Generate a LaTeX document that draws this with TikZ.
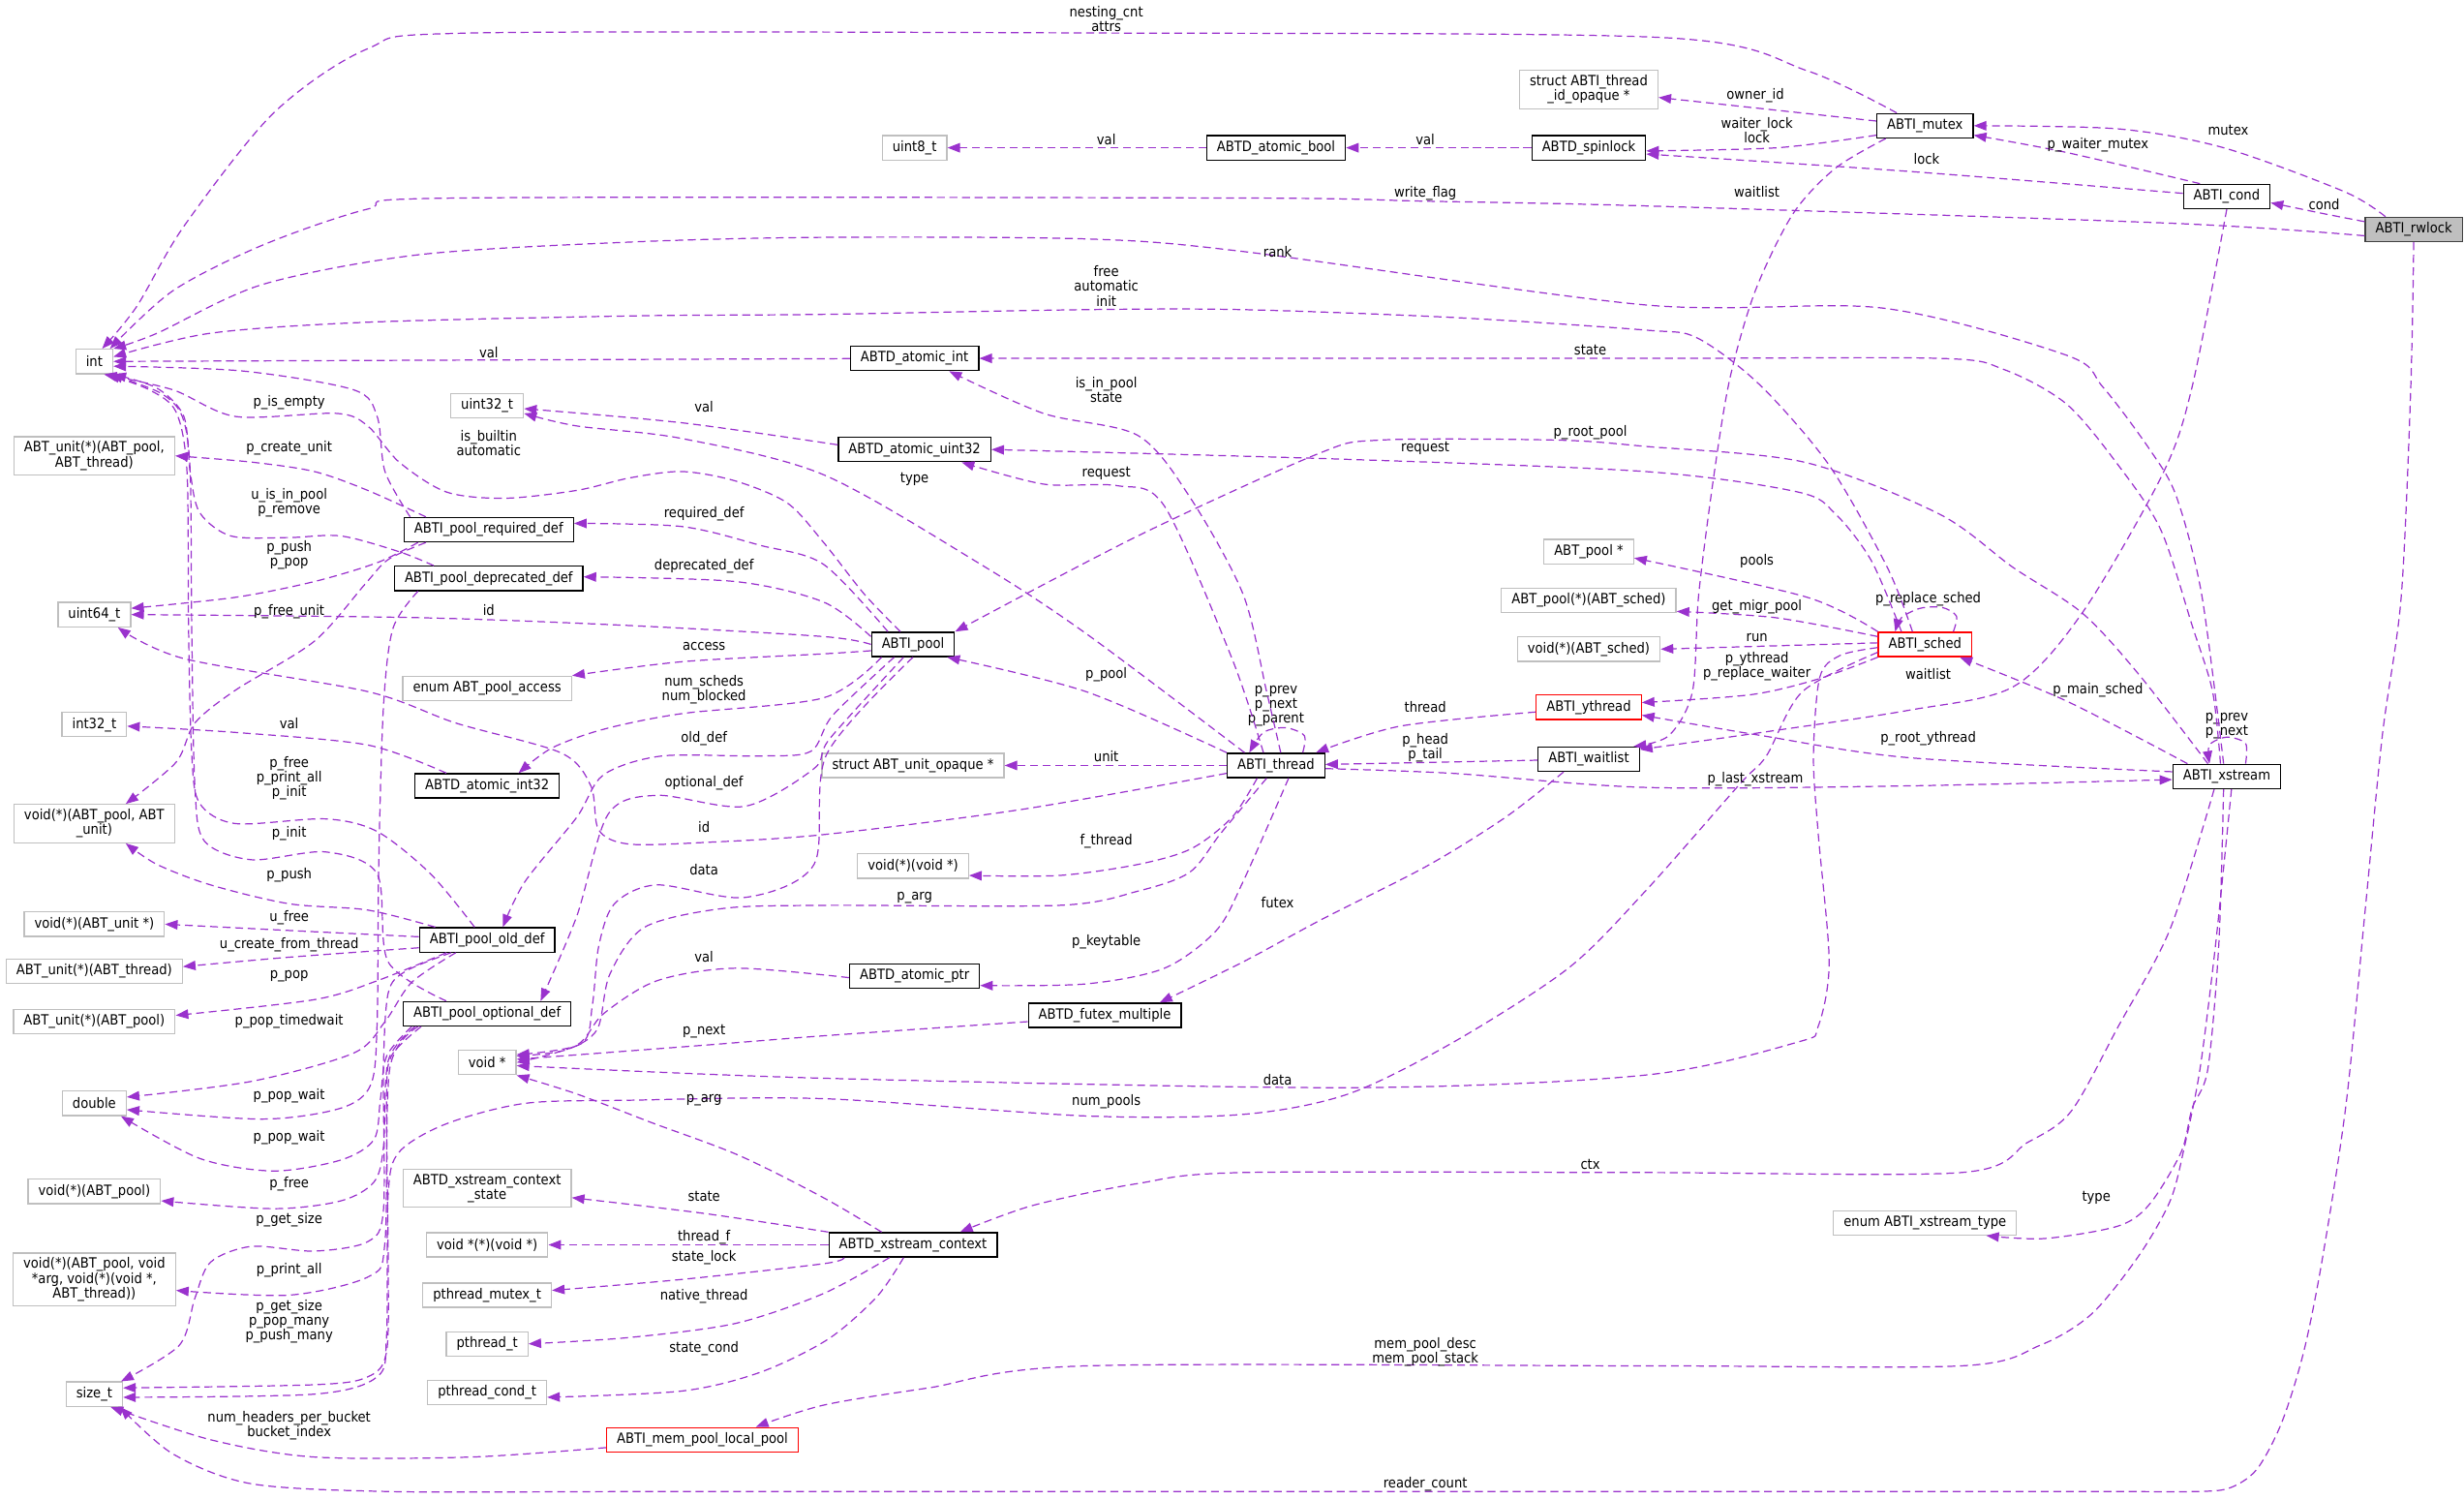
\documentclass[tikz,border=0pt]{standalone}
\usepackage{fontspec}
\setmainfont{DejaVu Sans Condensed}
\usetikzlibrary{arrows.meta}

\definecolor{orchid}{HTML}{9A32CD}
\definecolor{lightbox}{HTML}{BFBFBF}

\begin{document}
\begin{tikzpicture}[x=1pt, y=-1pt,
    box/.style={rectangle, inner xsep=6.5pt, inner ysep=3pt, minimum height=15.5pt,
        align=center, font=\fontsize{9}{9.3}\selectfont, line width=0.8pt, fill=white},
    struct box/.style={box, draw=black},
    plain box/.style={box, draw=lightbox},
    cut box/.style={box, draw=red},
    root box/.style={box, draw=black!75, fill=lightbox},
    member/.style={draw=orchid, line width=0.75pt, dash pattern=on 5pt off 3pt,
        -{Triangle[length=8pt, width=6pt]}},
    mlabel/.style={inner sep=0pt, align=center, font=\fontsize{9}{9.3}\selectfont}]

    \useasboundingbox (0,0) rectangle (1568,954);

    % column of plain types
    \node[plain box] (int) at (60,230) {int};
    \node[plain box] (unitPT) at (60,290) {ABT\_unit(*)(ABT\_pool,\\ABT\_thread)};
    \node[plain box] (u64) at (60,391) {uint64\_t};
    \node[plain box] (i32) at (60,461) {int32\_t};
    \node[plain box] (fnPU) at (60,524) {void(*)(ABT\_pool, ABT\\\_unit)};
    \node[plain box] (fnU) at (60,588) {void(*)(ABT\_unit *)};
    \node[plain box] (unitT) at (60,618) {ABT\_unit(*)(ABT\_thread)};
    \node[plain box] (unitP) at (60,650) {ABT\_unit(*)(ABT\_pool)};
    \node[plain box] (dbl) at (60,702) {double};
    \node[plain box] (fnP) at (60,758) {void(*)(ABT\_pool)};
    \node[plain box] (fnPrint) at (60,814) {void(*)(ABT\_pool, void\\{}*arg, void(*)(void *,\\ABT\_thread))};
    \node[plain box] (sizet) at (60,887) {size\_t};

    \node[plain box] (u32) at (310,258) {uint32\_t};
    \node[struct box] (reqDef) at (311,337) {ABTI\_pool\_required\_def};
    \node[struct box] (depDef) at (311,368) {ABTI\_pool\_deprecated\_def};
    \node[plain box] (access) at (310,438) {enum ABT\_pool\_access};
    \node[struct box] (ai32) at (310,500) {ABTD\_atomic\_int32};
    \node[struct box] (oldDef) at (310,598) {ABTI\_pool\_old\_def};
    \node[struct box] (optDef) at (310,645) {ABTI\_pool\_optional\_def};
    \node[plain box] (voidp) at (310,676) {void *};
    \node[plain box] (xcState) at (310,756) {ABTD\_xstream\_context\\\_state};
    \node[plain box] (thrF) at (310,792) {void *(*)(void *)};
    \node[plain box] (pMutex) at (310,824) {pthread\_mutex\_t};
    \node[plain box] (pThr) at (310,855) {pthread\_t};
    \node[plain box] (pCond) at (310,886) {pthread\_cond\_t};
    \node[cut box] (memPool) at (447,916) {ABTI\_mem\_pool\_local\_pool};

    \node[plain box] (u8) at (582,94) {uint8\_t};
    \node[struct box] (aInt) at (582,228) {ABTD\_atomic\_int};
    \node[struct box] (aU32) at (582,286) {ABTD\_atomic\_uint32};
    \node[struct box] (pool) at (581,410) {ABTI\_pool};
    \node[plain box] (unitOp) at (581,487) {struct ABT\_unit\_opaque *};
    \node[plain box] (fnV) at (581,551) {void(*)(void *)};
    \node[struct box] (aPtr) at (582,621) {ABTD\_atomic\_ptr};
    \node[struct box] (xCtx) at (581,792) {ABTD\_xstream\_context};
    \node[struct box] (futex) at (703,646) {ABTD\_futex\_multiple};

    \node[struct box] (aBool) at (812,94) {ABTD\_atomic\_bool};
    \node[struct box] (thread) at (812,487) {ABTI\_thread};

    \node[plain box] (thrId) at (1011,57) {struct ABTI\_thread\\\_id\_opaque *};
    \node[struct box] (spin) at (1011,94) {ABTD\_spinlock};
    \node[plain box] (poolPtr) at (1011,351) {ABT\_pool *};
    \node[plain box] (poolFn) at (1011,382) {ABT\_pool(*)(ABT\_sched)};
    \node[plain box] (schedFn) at (1011,413) {void(*)(ABT\_sched)};
    \node[cut box] (ythread) at (1011,450) {ABTI\_ythread};
    \node[struct box] (waitlist) at (1011,483) {ABTI\_waitlist};

    \node[struct box] (mutex) at (1225,80) {ABTI\_mutex};
    \node[cut box] (sched) at (1225,410) {ABTI\_sched};
    \node[plain box] (xType) at (1225,778) {enum ABTI\_xstream\_type};

    \node[struct box] (cond) at (1417,125) {ABTI\_cond};
    \node[struct box] (xstream) at (1417,494) {ABTI\_xstream};
    \node[root box] (rwlock) at (1536,146) {ABTI\_rwlock};

    % rwlock
    \draw[member] plot[smooth] coordinates {([yshift=5pt]rwlock.west) (1479,136) ([yshift=-4pt]cond.east)} node[mlabel] (lCond) at (1479,130) {cond};
    \draw[member] plot[smooth] coordinates {([xshift=-18pt]rwlock.north) (1492,122) (1415,94) (1348,82) (mutex.east)} node[mlabel] (lMutex) at (1418,83) {mutex};
    \draw[member] plot[smooth] coordinates {([yshift=-4pt]rwlock.west) (1381,142) (1047,131) (907,128) (791,126) (291,126) (234,133) (167,156) (110,185) ([xshift=10pt]int.north)} node[mlabel] (lWrite) at (907,123) {write\_flag};
    \draw[member] plot[smooth] coordinates {(rwlock.south) (1534,250) (1528,380) (1516,468) (1505,580) (1493,702) (1478,800) (1466,860) (1452,905) (1436,935) (1418,947) (1395,949) (1360,949) (1300,949) (1200,949) (1000,949) (800,949) (600,949) (400,949) (250,949) (160,944) (110,925) ([xshift=-2pt]sizet.south east)} node[mlabel] (lReader) at (907,944) {reader\_count};

    % cond
    \draw[member] plot[smooth] coordinates {([xshift=-17pt]cond.north) (1315,97) ([yshift=-6pt]mutex.east)} node[mlabel] (lWaiterMutex) at (1335,92) {p\_waiter\_mutex};
    \draw[member] plot[smooth] coordinates {([yshift=2pt]cond.west) (1214,109) ([yshift=-4pt]spin.east)} node[mlabel] (lLock) at (1226,101) {lock};
    \draw[member] plot[smooth] coordinates {(cond.south) (1395,246) (1376,302) (1325,390) (1281,437) (1214,452) (1121,466) ([yshift=-2pt]waitlist.north east)} node[mlabel] (lWaitCond) at (1227,429) {waitlist};

    % mutex
    \draw[member] plot[smooth] coordinates {([xshift=-18pt]mutex.north) (1150,45) (1060,24) (704,21) (300,21) (234,31) (174,72) (117,144) (87,195) ([xshift=5pt]int.north)} node[mlabel] (lNest) at (704,12) {nesting\_cnt\\attrs};
    \draw[member] plot[smooth] coordinates {([yshift=-6pt]mutex.west) (1131,94) ([yshift=-2pt]spin.east)} node[mlabel] (lWaiterLock) at (1118,83) {waiter\_lock\\lock};
    \draw[member] plot[smooth] coordinates {([yshift=3pt]mutex.west) ([yshift=-5pt]thrId.east)} node[mlabel] (lOwner) at (1117,61) {owner\_id};
    \draw[member] plot[smooth] coordinates {([xshift=-25pt]mutex.south) (1168,107) (1141,136) (1117,185) (1101,240) (1091,300) (1081,378) (1077,440) (1062,468) ([xshift=-4pt]waitlist.north east)} node[mlabel] (lWaitMutex) at (1118,122) {waitlist};

    \draw[member] (spin) -- (aBool) node[mlabel] (lValSpin) at (907,89) {val};
    \draw[member] (aBool) -- (u8) node[mlabel] (lValBool) at (704,89) {val};

    % xstream
    \draw[member] plot[smooth] coordinates {([xshift=-25pt]xstream.north) (1315,446) ([xshift=-8pt]sched.south east)} node[mlabel] (lMain) at (1335,439) {p\_main\_sched};
    \draw[member] plot[smooth] coordinates {([yshift=3pt]xstream.west) (1214,482) (1121,468) ([yshift=-5pt]ythread.east)} node[mlabel] (lRootY) at (1227,470) {p\_root\_ythread};
    \draw[member] plot[smooth] coordinates {([xshift=12pt]xstream.north) (1429,473) (1417,469) (1406,474) ([xshift=-11pt]xstream.north)} node[mlabel] (lXPrev) at (1417,462) {p\_prev\\p\_next};
    \draw[member] plot[smooth] coordinates {([xshift=-12pt]xstream.north) (1361,429) (1325,390) (1281,361) (1234,327) (1148,294) (1047,284) (991,280) (878,280) (838,289) (724,341) (pool.north east)} node[mlabel] (lRootPool) at (1012,275) {p\_root\_pool};
    \draw[member] plot[smooth] coordinates {([xshift=-4pt]xstream.north) (1408,440) (1395,398) (1375,337) (1348,296) (1315,257) (1275,235) (1234,228) (1047,228) (aInt.east)} node[mlabel] (lStateX) at (1012,223) {state};
    \draw[member] plot[smooth] coordinates {([xshift=-2pt]xstream.north) (1401,378) (1385,316) (1368,286) (1338,246) (1315,226) (1198,196) (1047,194) (791,160) (691,152) (524,151) (401,154) (267,162) (167,181) (100,212) (int.north east)} node[mlabel] (lRank) at (813,160) {rank};
    \draw[member] plot[smooth] coordinates {([xshift=-8pt]xstream.south) (1381,591) (1348,653) (1318,707) (1290,727) (1248,746) (1047,746) (791,746) (724,753) (657,767) ([xshift=30pt]xCtx.north)} node[mlabel] (lCtx) at (1012,741) {ctx};
    \draw[member] plot[smooth] coordinates {([xshift=-2pt]xstream.south) (1412,600) (1405,680) (1395,705) (1388,733) (1368,766) (1348,780) (1301,788) ([xshift=39pt]xType.south)} node[mlabel] (lTypeX) at (1334,762) {type};
    \draw[member] plot[smooth] coordinates {([xshift=3pt]xstream.south) (1410,600) (1400,680) (1390,730) (1381,764) (1361,799) (1331,836) (1298,856) (1248,869) (1048,869) (691,869) (591,883) (524,894) ([xshift=34pt]memPool.north)} node[mlabel] (lMem) at (907,860) {mem\_pool\_desc\\mem\_pool\_stack};

    % sched
    \draw[member] plot[smooth] coordinates {(sched.north west) (1150,380) ([yshift=-4pt]poolPtr.east)} node[mlabel] (lPools) at (1118,357) {pools};
    \draw[member] plot[smooth] coordinates {([yshift=5pt]sched.west) (1130,393) ([yshift=-7pt]poolFn.east)} node[mlabel] (lMigr) at (1118,386) {get\_migr\_pool};
    \draw[member] plot[smooth] coordinates {([yshift=1pt]sched.west) (schedFn.east)} node[mlabel] (lRun) at (1118,406) {run};
    \draw[member] plot[smooth] coordinates {(sched.south west) (1157,432) (1114,442) ([yshift=3pt]ythread.east)} node[mlabel] (lYth) at (1118,424) {p\_ythread\\p\_replace\_waiter};
    \draw[member] plot[smooth] coordinates {([xshift=18pt]sched.north) (1245,392) (1236,386.5) (1222,387) (1210,393) ([xshift=-19pt]sched.north)} node[mlabel] (lRepl) at (1227,381) {p\_replace\_sched};
    \draw[member] plot[smooth] coordinates {([xshift=-15pt]sched.north) (1191,357) (1168,327) (1144,313) (1047,300) (850,292) (aU32.east)} node[mlabel] (lReqSched) at (907,285) {request};
    \draw[member] plot[smooth] coordinates {([xshift=-8pt]sched.north) (1201,361) (1164,296) (1120,245) (1080,215) (1047,210) (925,202) (791,197) (691,197) (524,200) (401,201) (234,205) (134,212) ([yshift=3pt]int.east)} node[mlabel] (lFree) at (704,182) {free\\automatic\\init};
    \draw[member] plot[smooth] coordinates {([yshift=-2pt]sched.west) (1171,417) (1158,431) (1154,481) (1157,530) (1164,612) (1157,653) (1144,663) (1047,684) (858,692) (524,686) ([yshift=-2pt]voidp.east)} node[mlabel] (lDataSched) at (813,687) {data};
    \draw[member] plot[smooth] coordinates {([yshift=-5pt]sched.west) (1147,440) (1124,481) (1107,499) (1047,567) (998,616) (925,663) (858,696) (791,709) (691,710) (524,699) (400,700) (334,702) (284,715) (254,733) (247,760) (246,850) (240,876) (200,887) ([yshift=-2pt]sizet.east)} node[mlabel] (lNumPools) at (704,701) {num\_pools};

    % thread
    \draw[member] (thread) -- (unitOp) node[mlabel] (lUnit) at (704,481) {unit};
    \draw[member] plot[smooth] coordinates {([yshift=-3pt]ythread.west) (891,462) ([xshift=-6pt]thread.north east)} node[mlabel] (lThread) at (907,450) {thread};
    \draw[member] (waitlist) -- (thread) node[mlabel] (lHead) at (907,476) {p\_head\\p\_tail};
    \draw[member] plot[smooth] coordinates {([xshift=17pt]thread.north) (830,468) (818,463) (804,466) ([xshift=-17pt]thread.north)} node[mlabel] (lPrev) at (812,449) {p\_prev\\p\_next\\p\_parent};
    \draw[member] plot[smooth] coordinates {([xshift=3pt]thread.north) (806,440) (791,378) (757,316) (724,277) (664,263) ([xshift=22pt]aInt.south)} node[mlabel] (lState) at (704,248) {is\_in\_pool\\state};
    \draw[member] plot[smooth] coordinates {([xshift=-8pt]thread.north) (784,419) (741,322) (711,309) (664,308) ([xshift=30pt]aU32.south)} node[mlabel] (lReqThr) at (704,301) {request};
    \draw[member] plot[smooth] coordinates {([xshift=-20pt]thread.north) (691,403) (624,359) (524,302) (434,279) (367,271) ([yshift=-5pt]u32.east)} node[mlabel] (lType) at (582,305) {type};
    \draw[member] plot[smooth] coordinates {(thread.north west) (691,440) ([xshift=-5pt]pool.south east)} node[mlabel] (lPPool) at (704,429) {p\_pool};
    \draw[member] plot[smooth] coordinates {([yshift=-2pt]thread.east) (924,492) (1048,501) (1214,500) ([yshift=-2pt]xstream.west)} node[mlabel] (lLast) at (1117,496) {p\_last\_xstream};
    \draw[member] plot[smooth] coordinates {([yshift=-5pt]thread.west) (650,515) (524,531) (448,536) (400,537) (381,528) (376,500) (357,479) (290,460) (234,440) (117,419) ([xshift=15pt]u64.south)} node[mlabel] (lIdThr) at (448,526) {id};
    \draw[member] plot[smooth] coordinates {([xshift=-12pt]thread.south) (784,520) (758,540) (724,550) (674,557) ([yshift=-6pt]fnV.east)} node[mlabel] (lFThread) at (704,535) {f\_thread};
    \draw[member] plot[smooth] coordinates {([xshift=-6pt]thread.south) (777,530) (757,555) (724,567) (674,576) (524,576) (460,578) (410,590) (388,620) (380,655) (360,668) ([yshift=4pt]voidp.east)} node[mlabel] (lArgThr) at (582,571) {p\_arg};
    \draw[member] plot[smooth] coordinates {([xshift=8pt]thread.south) (791,561) (774,592) (741,616) (691,626) ([yshift=-6pt]aPtr.east)} node[mlabel] (lKey) at (704,599) {p\_keytable};

    % waitlist and futex
    \draw[member] plot[smooth] coordinates {([xshift=-16pt]waitlist.south) (958,520) (908,551) (841,585) (791,612) ([xshift=-14pt]futex.north east)} node[mlabel] (lFutex) at (813,574) {futex};
    \draw[member] plot[smooth] coordinates {([yshift=-4pt]futex.west) (524,659) (448,665) ([yshift=2pt]voidp.east)} node[mlabel] (lNext) at (448,656) {p\_next};

    % pool
    \draw[member] plot[smooth] coordinates {([xshift=-16pt]pool.north) (524,359) (484,347) (434,335) ([yshift=4pt]reqDef.east)} node[mlabel] (lReq) at (448,327) {required\_def};
    \draw[member] plot[smooth] coordinates {([yshift=5pt]pool.west) (524,383) (468,370) ([yshift=1pt]depDef.east)} node[mlabel] (lDep) at (448,360) {deprecated\_def};
    \draw[member] plot[smooth] coordinates {(pool.west) (524,405) (401,398) (267,393) (u64.east)} node[mlabel] (lIdPool) at (311,388) {id};
    \draw[member] plot[smooth] coordinates {([yshift=-4pt]pool.west) (524,416) (434,421) (access.north east)} node[mlabel] (lAccess) at (448,411) {access};
    \draw[member] plot[smooth] coordinates {([xshift=-20pt]pool.south) (524,444) (434,454) (384,464) (351,476) ([xshift=20pt]ai32.north)} node[mlabel] (lNum) at (448,439) {num\_scheds\\num\_blocked};
    \draw[member] plot[smooth] coordinates {([xshift=-12pt]pool.south) (530,455) (516,478) (484,481) (421,481) (384,493) (367,520) (334,561) ([xshift=10pt]oldDef.north)} node[mlabel] (lOld) at (448,470) {old\_def};
    \draw[member] plot[smooth] coordinates {([xshift=-6pt]pool.south) (528,470) (518,489) (474,513) (418,506) (387,518) (367,583) ([xshift=34pt]optDef.north)} node[mlabel] (lOpt) at (448,498) {optional\_def};
    \draw[member] plot[smooth] coordinates {(pool.south) (526,480) (518,550) (474,571) (418,563) (391,575) (381,602) (377,639) (370,664) ([yshift=5pt]voidp.east)} node[mlabel] (lDataPool) at (448,553) {data};
    \draw[member] plot[smooth] coordinates {([xshift=-8pt]pool.north) (550,378) (524,345) (501,320) (468,306) (434,300) (401,304) (367,312) (321,317) (284,313) (254,294) (234,271) (214,263) (150,265) (110,248) ([xshift=-6pt]int.south east)} node[mlabel] (lBuiltin) at (311,282) {is\_builtin\\automatic};

    % required_def
    \draw[member] plot[smooth] coordinates {([xshift=-50pt]reqDef.north) (245,300) (240,265) (225,248) (154,236) ([yshift=-3pt]int.east)} node[mlabel] (lEmpty) at (184,256) {p\_is\_empty};
    \draw[member] plot[smooth] coordinates {([xshift=-40pt]reqDef.north) (234,312) (200,300) (160,294) (unitPT.east)} node[mlabel] (lCreate) at (184,285) {p\_create\_unit};
    \draw[member] plot[smooth] coordinates {([xshift=-45pt]reqDef.south) (240,358) (200,370) (150,380) ([yshift=4pt]u64.east)} node[mlabel] (lPush) at (184,353) {p\_push\\p\_pop};
    \draw[member] plot[smooth] coordinates {([xshift=-40pt]reqDef.south) (247,356) (232,372) (200,408) (150,439) (124,460) (112,485) ([xshift=20pt]fnPU.north)} node[mlabel] (lFreeUnit) at (184,389) {p\_free\_unit};

    % deprecated_def
    \draw[member] plot[smooth] coordinates {([xshift=-35pt]depDef.north) (254,351) (217,341) (184,342) (147,341) (127,326) (121,300) (117,265) (100,247) (int.south east)} node[mlabel] (lInPool) at (184,320) {u\_is\_in\_pool\\p\_remove};
    \draw[member] plot[smooth] coordinates {([xshift=-45pt]depDef.south) (250,400) (244,450) (241,550) (240,650) (236,690) (217,705) (167,712) ([yshift=-4pt]dbl.east)} node[mlabel] (lPopWaitDep) at (184,697) {p\_pop\_wait};

    % old_def
    \draw[member] plot[smooth] coordinates {([xshift=-8pt]oldDef.north) (274,556) (240,529) (207,521) (150,524) (127,511) (122,480) (120,400) (119,300) (112,262) (95,248) ([xshift=-4pt]int.south east)} node[mlabel] (lFreeOld) at (184,495) {p\_free\\p\_print\_all\\p\_init};
    \draw[member] plot[smooth] coordinates {([xshift=-33pt]oldDef.north) (234,579) (184,575) (134,563) (100,550) ([xshift=20pt]fnPU.south)} node[mlabel] (lPushOld) at (184,557) {p\_push};
    \draw[member] plot[smooth] coordinates {([yshift=2pt]oldDef.west) (184,592) (fnU.east)} node[mlabel] (lUFree) at (184,584) {u\_free};
    \draw[member] plot[smooth] coordinates {([yshift=-5pt]oldDef.west) (184,609) ([yshift=3pt]unitT.east)} node[mlabel] (lUCreate) at (184,601) {u\_create\_from\_thread};
    \draw[member] plot[smooth] coordinates {([xshift=-26pt]oldDef.south) (240,624) (200,636) ([yshift=4pt]unitP.east)} node[mlabel] (lPop) at (184,621) {p\_pop};
    \draw[member] plot[smooth] coordinates {([xshift=-20pt]oldDef.south) (262,625) (245,650) (225,670) (160,688) ([yshift=4pt]dbl.east)} node[mlabel] (lTimed) at (184,650) {p\_pop\_timedwait};
    \draw[member] plot[smooth] coordinates {([xshift=-23pt]oldDef.south) (258,618) (247,632) (244,680) (244,770) (234,790) (200,796) (160,793) (134,803) (124,826) (114,856) ([xshift=17pt]sizet.north)} node[mlabel] (lSizeOld) at (184,776) {p\_get\_size};

    % optional_def
    \draw[member] plot[smooth] coordinates {([xshift=-26pt]optDef.north) (247,612) (240,556) (207,542) (160,547) (130,535) (124,500) (122,400) (121,300) (116,265) (102,250) ([xshift=-2pt]int.south east)} node[mlabel] (lInit) at (184,530) {p\_init};
    \draw[member] plot[smooth] coordinates {([xshift=-48pt]optDef.south) (246,672) (242,700) (238,725) (217,738) (174,745) (127,737) ([xshift=17pt]dbl.south)} node[mlabel] (lPopWaitOpt) at (184,724) {p\_pop\_wait};
    \draw[member] plot[smooth] coordinates {([xshift=-46pt]optDef.south) (247,675) (244,730) (238,752) (217,764) (174,769) ([yshift=-6pt]fnP.east)} node[mlabel] (lFreeOpt) at (184,753) {p\_free};
    \draw[member] plot[smooth] coordinates {([xshift=-44pt]optDef.south) (248,680) (245,790) (235,812) (184,824) ([yshift=-7pt]fnPrint.east)} node[mlabel] (lPrint) at (184,808) {p\_print\_all};
    \draw[member] plot[smooth] coordinates {([xshift=-42pt]optDef.south) (249,672) (246,700) (247,800) (246,860) (234,876) (200,881) ([yshift=4pt]sizet.east)} node[mlabel] (lSizeOpt) at (184,841) {p\_get\_size\\p\_pop\_many\\p\_push\_many};

    % atomics
    \draw[member] (aInt) -- (int) node[mlabel] (lValInt) at (311,224) {val};
    \draw[member] plot[smooth] coordinates {([yshift=3pt]aU32.west) (434,269) ([yshift=-2pt]u32.east)} node[mlabel] (lValU32) at (448,259) {val};
    \draw[member] plot[smooth] coordinates {([xshift=-26pt]ai32.north) (234,474) (150,466) ([yshift=-1pt]i32.east)} node[mlabel] (lValI32) at (184,460) {val};
    \draw[member] plot[smooth] coordinates {([yshift=-1pt]aPtr.west) (468,616) (418,624) (384,645) (367,665) (voidp.east)} node[mlabel] (lValPtr) at (448,609) {val};

    % xstream context
    \draw[member] plot[smooth] coordinates {(xCtx.north west) (448,772) ([yshift=-6pt]xcState.east)} node[mlabel] (lStateCtx) at (448,761) {state};
    \draw[member] (xCtx) -- (thrF) node[mlabel] (lThrF) at (448,787) {thread\_f};
    \draw[member] plot[smooth] coordinates {([xshift=10pt]xCtx.south west) (524,804) (434,814) ([yshift=3pt]pMutex.east)} node[mlabel] (lStateLock) at (448,800) {state\_lock};
    \draw[member] plot[smooth] coordinates {([xshift=-15pt]xCtx.south) (524,823) (468,842) (400,851) (pThr.east)} node[mlabel] (lNative) at (448,825) {native\_thread};
    \draw[member] plot[smooth] coordinates {([xshift=-6pt]xCtx.south) (558,825) (527,852) (484,873) (434,885) ([yshift=-3pt]pCond.east)} node[mlabel] (lStateCond) at (448,858) {state\_cond};
    \draw[member] plot[smooth] coordinates {([xshift=-20pt]xCtx.north) (524,762) (470,735) (414,714) (367,696) (voidp.south east)} node[mlabel] (lArgCtx) at (448,700) {p\_arg};

    % mem pool
    \draw[member] plot[smooth] coordinates {([yshift=-5pt]memPool.west) (300,927) (200,927) (134,916) ([xshift=-8pt]sizet.south east)} node[mlabel] (lBucket) at (184,907) {num\_headers\_per\_bucket\\bucket\_index};

\end{tikzpicture}
\end{document}
